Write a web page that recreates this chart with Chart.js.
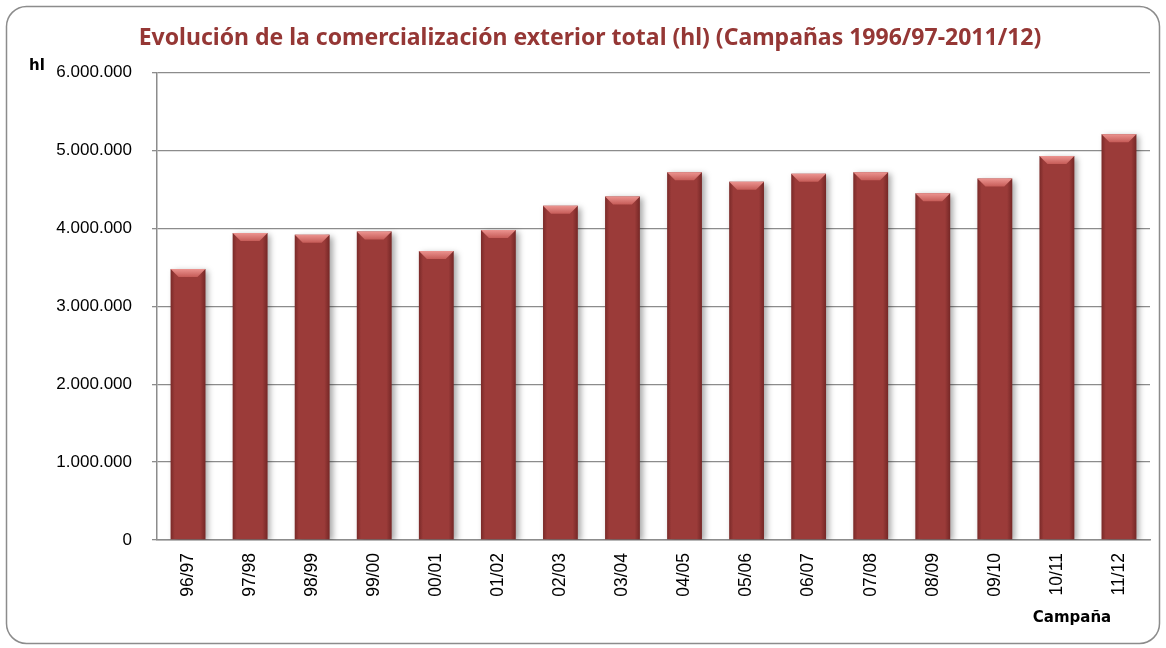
<!DOCTYPE html>
<html>
<head>
<meta charset="utf-8">
<script src="https://cdn.jsdelivr.net/npm/chart.js@4"></script>
<style>
  body { margin: 0; background: #fff; }
</style>
</head>
<body>
<canvas id="grafico" width="1166" height="648"></canvas>
<script>
// campañas y volumen exportado (hl)
const campanas = ["96/97", "97/98", "98/99", "99/00", "00/01", "01/02", "02/03", "03/04",
                  "04/05", "05/06", "06/07", "07/08", "08/09", "09/10", "10/11", "11/12"];
const hectolitros = [3480000, 3940000, 3920000, 3960000, 3710000, 3980000, 4290000, 4410000,
                     4720000, 4600000, 4700000, 4720000, 4450000, 4640000, 4930000, 5210000];
const ejeMin = 0;
const ejeMax = 6000000;
const ejePaso = 1000000;

const titulo = "Evolución de la comercialización exterior total (hl) (Campañas 1996/97-2011/12)";
const unidad = "hl";
const nombreEje = "Campaña";

// puntos de miles
function miles(v) {
    return String(v).replace(/\B(?=(\d{3})+(?!\d))/g, ".");
}

// marco redondeado de fondo
const marco = {
    id: 'marco',
    beforeDraw(chart) {
        const ctx = chart.ctx;
        ctx.save();
        ctx.fillStyle = '#fff';
        ctx.fillRect(0, 0, chart.width, chart.height);
        ctx.beginPath();
        ctx.roundRect(6.5, 6.5, chart.width - 13, chart.height - 11, 20);
        ctx.strokeStyle = '#8c8c8c';
        ctx.lineWidth = 1.5;
        ctx.stroke();
        ctx.restore();
    }
};

// sombra de las barras
const sombra = {
    id: 'sombra',
    beforeDatasetsDraw(chart) {
        const ctx = chart.ctx;
        ctx.save();
        ctx.shadowColor = 'rgba(0,0,0,0.35)';
        ctx.shadowBlur = 6;
        ctx.shadowOffsetX = 3;
        ctx.shadowOffsetY = 2;
    },
    afterDatasetsDraw(chart) {
        chart.ctx.restore();
    }
};

// relieve: bordes laterales oscuros y bisel superior
const bisel = {
    id: 'bisel',
    afterDatasetsDraw(chart) {
        const ctx = chart.ctx;
        chart.getDatasetMeta(0).data.forEach(bar => {
            const p = bar.getProps(['x', 'y', 'base', 'width'], true);
            const l = p.x - p.width / 2, r = p.x + p.width / 2;
            const g = ctx.createLinearGradient(l, 0, r, 0);
            g.addColorStop(0, 'rgba(60,10,10,0.35)');
            g.addColorStop(0.12, 'rgba(60,10,10,0)');
            g.addColorStop(0.85, 'rgba(60,10,10,0)');
            g.addColorStop(1, 'rgba(60,10,10,0.4)');
            ctx.save();
            ctx.fillStyle = g;
            ctx.fillRect(l, p.y, p.width, p.base - p.y);
            const b = 8;
            const tg = ctx.createLinearGradient(0, p.y, 0, p.y + b);
            tg.addColorStop(0, '#ec9490');
            tg.addColorStop(1, '#c65c58');
            ctx.beginPath();
            ctx.moveTo(l, p.y);
            ctx.lineTo(r, p.y);
            ctx.lineTo(r - b, p.y + b);
            ctx.lineTo(l + b, p.y + b);
            ctx.closePath();
            ctx.fillStyle = tg;
            ctx.fill();
            ctx.restore();
        });
    }
};

// rótulos de unidad y de eje
const rotulos = {
    id: 'rotulos',
    afterDraw(chart) {
        const ctx = chart.ctx;
        const area = chart.chartArea;
        ctx.save();
        ctx.fillStyle = '#000';
        ctx.font = 'bold 15px "DejaVu Sans"';
        ctx.textAlign = 'left';
        ctx.textBaseline = 'middle';
        ctx.fillText(unidad, 29, area.top - 6);
        ctx.textAlign = 'center';
        ctx.fillText(nombreEje, 1072, 618);
        ctx.restore();
    }
};

new Chart(document.getElementById('grafico'), {
    type: 'bar',
    data: {
        labels: campanas,
        datasets: [{
            data: hectolitros,
            backgroundColor: '#9b3b39',
            borderWidth: 0,
            barPercentage: 0.56,
            categoryPercentage: 1
        }]
    },
    options: {
        responsive: false,
        animation: false,
        layout: { padding: { left: 30, right: 16, top: 0, bottom: 0 } },
        plugins: {
            legend: { display: false },
            tooltip: { enabled: false },
            title: {
                display: true,
                text: titulo,
                color: '#953735',
                font: { family: '"Noto Sans"', size: 23, weight: 'bold' },
                padding: { top: 25, bottom: 20 }
            }
        },
        scales: {
            x: {
                grid: { display: false, drawTicks: false },
                border: { display: true, color: '#8c8c8c', width: 1.5 },
                ticks: {
                    color: '#000',
                    font: { family: '"Liberation Sans"', size: 17.5 },
                    minRotation: 90,
                    maxRotation: 90,
                    padding: 13
                },
                afterFit(scale) { scale.height = 108; }
            },
            y: {
                min: ejeMin,
                max: ejeMax,
                grid: { color: '#8c8c8c', lineWidth: 1.3, tickLength: 5 },
                border: { display: true, color: '#8c8c8c', width: 1.5 },
                ticks: {
                    stepSize: ejePaso,
                    color: '#000',
                    font: { family: '"Liberation Sans"', size: 17 },
                    padding: 20,
                    callback: v => miles(v)
                },
                afterFit(scale) { scale.width = 127; }
            }
        }
    },
    plugins: [marco, sombra, bisel, rotulos]
});
</script>
</body>
</html>
